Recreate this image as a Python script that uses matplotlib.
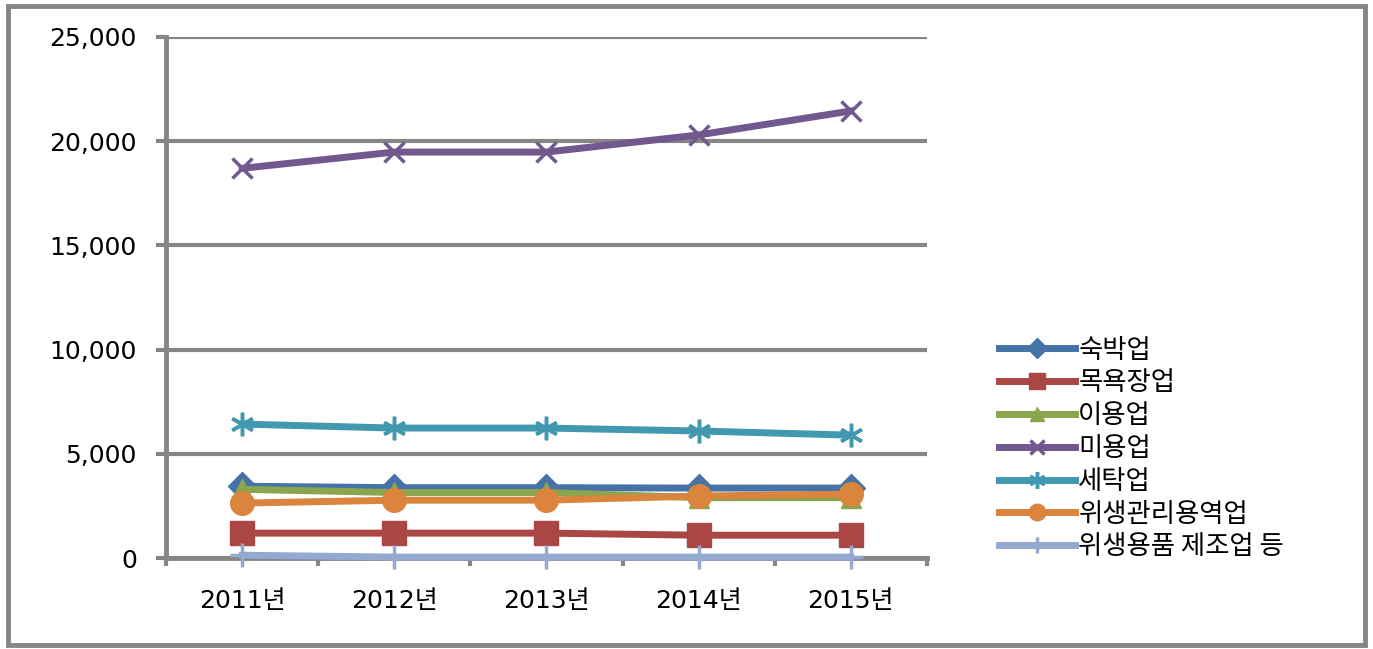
import matplotlib
matplotlib.use('Agg')
import matplotlib.pyplot as plt
from matplotlib.patches import Rectangle
from matplotlib.ticker import FuncFormatter

plt.rcParams['font.family'] = ['DejaVu Sans', 'Noto Sans CJK KR']

years = ['2011년', '2012년', '2013년', '2014년', '2015년']
lodging = [3450, 3380, 3380, 3360, 3360]
bath = [1200, 1200, 1200, 1100, 1100]
barber = [3300, 3150, 3150, 2900, 2900]
beauty = [18700, 19480, 19480, 20300, 21450]
laundry = [6430, 6240, 6240, 6100, 5900]
hygiene_svc = [2640, 2780, 2780, 2980, 3070]
hygiene_mfg = [140, 50, 50, 50, 50]

series = [
    ('숙박업', lodging, '#4572A7', 'D', 14),
    ('목욕장업', bath, '#AA4643', 's', 17),
    ('이용업', barber, '#89A54E', '^', 15),
    ('미용업', beauty, '#71588F', 'x', 15),
    ('세탁업', laundry, '#4198AF', (6, 2, 0), 17),
    ('위생관리용역업', hygiene_svc, '#DB843D', 'o', 17),
    ('위생용품 제조업 등', hygiene_mfg, '#93A9CF', '+', 17),
]

fig = plt.figure(figsize=(13.73, 6.49), dpi=100)
fig.patches.append(Rectangle((0.006, 0.006), 0.988, 0.984, transform=fig.transFigure,
                             fill=False, edgecolor='#868686', linewidth=3.5))

ax = fig.add_axes([0.121, 0.140, 0.554, 0.803])
x = list(range(len(years)))
for name, vals, col, mk, ms in series:
    ax.plot(x, vals, color=col, linewidth=5, marker=mk, markersize=ms,
            markeredgewidth=2.5 if mk in ('x', '+', (6, 2, 0)) else 1,
            markeredgecolor=col, markerfacecolor=col, label=name,
            zorder=3, clip_on=False)

ax.set_xlim(-0.5, 4.5)
ax.set_ylim(0, 25000)
ax.set_yticks(range(0, 25001, 5000))
ax.yaxis.set_major_formatter(FuncFormatter(lambda v, p: f'{int(v):,}'))
ax.set_xticks(x)
ax.set_xticklabels(years)
ax.set_xticks([i - 0.5 for i in range(6)], minor=True)
ax.tick_params(axis='x', which='major', length=0, pad=22, labelsize=18)
ax.tick_params(axis='x', which='minor', length=6, width=3, color='#868686')
ax.tick_params(axis='y', length=7, width=3, color='#868686', labelsize=18, pad=14)
ax.grid(axis='y', color='#868686', linewidth=3)
ax.set_axisbelow(True)
for s in ['top', 'right']:
    ax.spines[s].set_visible(False)
for s in ['left', 'bottom']:
    ax.spines[s].set_color('#868686')
    ax.spines[s].set_linewidth(3.5)
    ax.spines[s].set_zorder(2)

leg = fig.legend(loc='upper left', bbox_to_anchor=(0.71, 0.518), frameon=False,
                 prop={'family': ['Noto Sans CJK KR', 'DejaVu Sans'], 'size': 19},
                 handlelength=2.9, labelspacing=0.22,
                 handletextpad=0.12, markerscale=0.7)

fig.savefig('out.png', dpi=100)
